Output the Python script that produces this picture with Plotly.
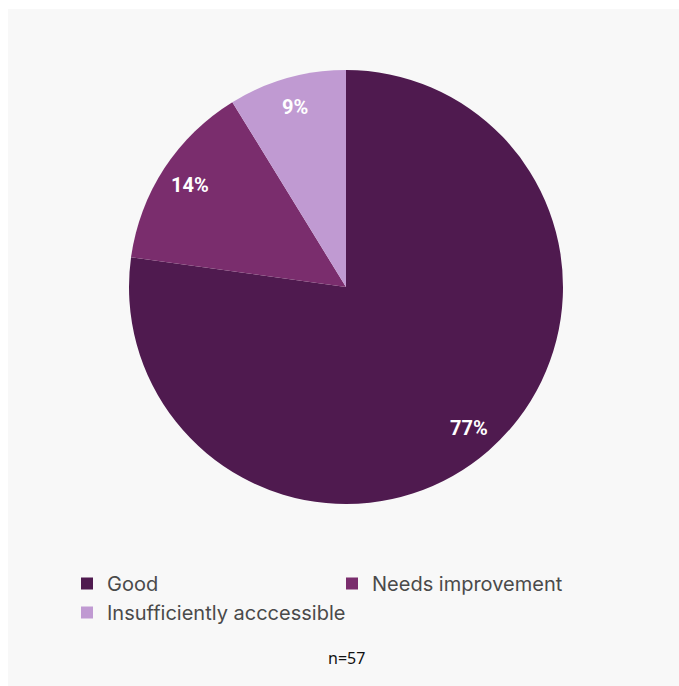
import math
import plotly.graph_objects as go

# Survey responses (n=57)
categories = ["Good", "Needs improvement", "Insufficiently acccessible"]
counts = [44, 8, 5]
colors = ["#4f1a4f", "#7a2d6d", "#c09ad2"]
sample_note = "n=57"

W, H = 679, 686
cx, cy, r = 346, 287, 217  # pie centre and radius in pixels
label_radius = 0.86        # percent labels sit near the rim

fig = go.Figure(
    go.Pie(
        labels=categories,
        values=counts,
        marker=dict(colors=colors, line=dict(width=0)),
        sort=False,
        direction="clockwise",
        rotation=0,
        textinfo="none",
        hoverinfo="label+percent",
        domain=dict(x=[(cx - r) / W, (cx + r) / W],
                    y=[(H - cy - r) / H, (H - cy + r) / H]),
    )
)

# Percent labels placed along each slice's mid-angle
annotations = []
total = sum(counts)
start = 0.0
for c in counts:
    frac = c / total
    mid = (start + frac / 2) * 2 * math.pi  # clockwise from 12 o'clock
    px = cx + label_radius * r * math.sin(mid)
    py = cy - label_radius * r * math.cos(mid)
    annotations.append(dict(
        text=f"{round(frac * 100)}%", xref="paper", yref="paper",
        x=px / W, y=1 - py / H, xanchor="center", yanchor="middle",
        showarrow=False,
        font=dict(family="Roboto, sans-serif", size=20, color="white", weight="bold"),
    ))
    start += frac

annotations.append(dict(
    text=sample_note, xref="paper", yref="paper",
    x=cx / W, y=1 - 658 / H, xanchor="center", yanchor="middle",
    showarrow=False,
    font=dict(family="Noto Sans, sans-serif", size=16, color="#111111"),
))

fig.update_layout(
    width=W,
    height=H,
    margin=dict(l=0, r=0, t=0, b=0),
    paper_bgcolor="white",
    showlegend=True,
    legend=dict(
        orientation="h",
        x=67 / W,
        xanchor="left",
        y=1 - 564 / H,
        yanchor="top",
        entrywidth=220,
        entrywidthmode="pixels",
        font=dict(family="Inter, sans-serif", size=20, color="#4a4a4a"),
        bgcolor="rgba(0,0,0,0)",
    ),
    shapes=[
        dict(type="rect", xref="paper", yref="paper",
             x0=8 / W, x1=1.01, y0=-0.01, y1=1 - 9 / H,
             fillcolor="#f8f8f8", line=dict(width=0), layer="below"),
    ],
    annotations=annotations,
)

fig.write_html("out.html")
